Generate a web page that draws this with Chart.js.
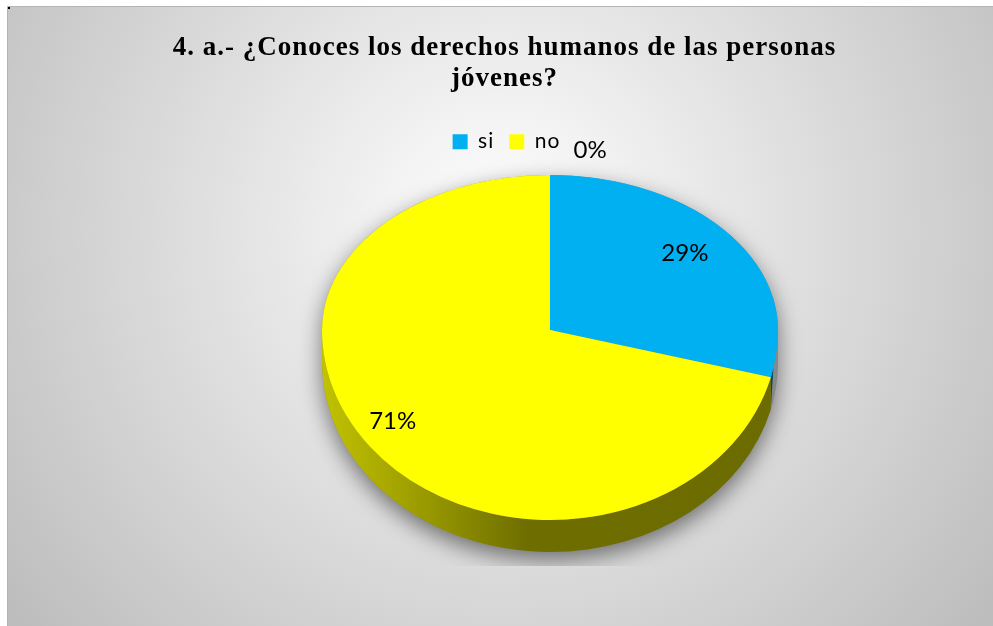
<!DOCTYPE html>
<html>
<head>
<meta charset="utf-8">
<title>Derechos humanos de las personas jóvenes</title>
<script src="https://cdn.jsdelivr.net/npm/chart.js@4.4.1/dist/chart.umd.min.js"></script>
<style>
  html, body { margin: 0; padding: 0; background: #fff; }
  canvas { display: block; }
</style>
</head>
<body>
<canvas id="pieChart" width="993" height="626"></canvas>
<script>
// data
const categories = ['si', 'no', ''];
const shares = [29, 71, 0];
const sliceColors = ['#00b0f0', '#ffff00', '#a5a5a5'];
const titleLines = ['4. a.- ¿Conoces los derechos humanos de las personas', 'jóvenes?'];

// look of the fake 3D pie (Excel style)
const pie3d = { cx: 550, apexY: 330, rx: 228, ryTop: 155, ryBottom: 190, depth: 32, sideFrom: 0.2, taper: 0.18 };
const sideShade = [[0, 0.76], [0.2, 0.62], [0.45, 0.43], [1, 0.42]];
const labelPlace = [{ r: 0.77, nudge: -2 }, { r: 0.84, nudge: 3 }, { r: 1.175, nudge: 8.6 }];

function shade(hex, f) {
  const n = parseInt(hex.slice(1), 16);
  const r = Math.round(((n >> 16) & 255) * f);
  const g = Math.round(((n >> 8) & 255) * f);
  const b = Math.round((n & 255) * f);
  return 'rgb(' + r + ',' + g + ',' + b + ')';
}

const backdrop = {
  id: 'backdrop',
  beforeDraw(chart) {
    const ctx = chart.ctx, w = chart.width, h = chart.height;
    ctx.save();
    ctx.fillStyle = '#fff';
    ctx.fillRect(0, 0, w, h);
    const g = ctx.createRadialGradient(500, 230, 0, 500, 230, 620);
    g.addColorStop(0, '#ffffff');
    g.addColorStop(1, '#bdbdbd');
    ctx.fillStyle = g;
    ctx.fillRect(7, 6, w - 7, h - 6);
    ctx.strokeStyle = '#b4b4b4';
    ctx.lineWidth = 1;
    ctx.beginPath();
    ctx.moveTo(7.5, h);
    ctx.lineTo(7.5, 6.5);
    ctx.lineTo(w, 6.5);
    ctx.stroke();
    ctx.fillStyle = '#000';
    ctx.fillRect(8, 7, 2, 2);
    ctx.restore();
    // the original picture is a bit stretched sideways: widen title and legend text
    ctx.letterSpacing = '1px';
  }
};

const pie3dPlugin = {
  id: 'pie3d',
  beforeDatasetsDraw(chart) {
    const ctx = chart.ctx;
    ctx.letterSpacing = '0px';
    const arcs = chart.getDatasetMeta(0).data;
    const p = pie3d;
    const R = arcs[0].outerRadius;

    // soft shadow under the pie
    ctx.save();
    ctx.beginPath();
    ctx.rect(290, 150, 520, 416);
    ctx.clip();
    ctx.shadowColor = 'rgba(0,0,0,0.5)';
    ctx.shadowBlur = 22;
    ctx.shadowOffsetY = 8;
    ctx.fillStyle = '#888';
    ctx.beginPath();
    ctx.ellipse(p.cx, p.apexY, p.rx, p.ryTop, 0, Math.PI, 2 * Math.PI);
    ctx.lineTo(p.cx + p.rx, p.apexY + p.depth);
    ctx.ellipse(p.cx, p.apexY + p.depth, p.rx, p.ryBottom, 0, 0, Math.PI);
    ctx.closePath();
    ctx.fill();
    ctx.restore();

    // side walls of the front half
    arcs.forEach((arc, i) => {
      const a = Math.max(arc.startAngle, p.sideFrom);
      const b = Math.min(arc.endAngle, Math.PI);
      if (b <= a) return;
      const aLow = a <= p.sideFrom ? Math.min(a + p.taper, b) : a;
      const grad = ctx.createLinearGradient(p.cx - p.rx, 0, p.cx + p.rx, 0);
      sideShade.forEach(([stop, f]) => grad.addColorStop(stop, shade(sliceColors[i], f)));
      ctx.save();
      ctx.fillStyle = grad;
      ctx.beginPath();
      ctx.ellipse(p.cx, p.apexY, p.rx, p.ryBottom, 0, a, b);
      ctx.ellipse(p.cx, p.apexY + p.depth, p.rx, p.ryBottom, 0, b, aLow, true);
      ctx.closePath();
      ctx.fill();
      ctx.restore();
    });

    // top face: back half flatter than front half
    [[0, p.apexY + 1, p.ryTop], [p.apexY - 1, chart.height, p.ryBottom]].forEach(([y0, y1, ry]) => {
      ctx.save();
      ctx.beginPath();
      ctx.rect(0, y0, chart.width, y1 - y0);
      ctx.clip();
      ctx.translate(p.cx, p.apexY);
      ctx.scale(p.rx / R, ry / R);
      ctx.translate(-arcs[0].x, -arcs[0].y);
      arcs.forEach(arc => arc.draw(ctx));
      ctx.restore();
    });

    // percentage labels
    ctx.save();
    ctx.fillStyle = '#000';
    ctx.font = '24px Lato';
    ctx.textAlign = 'center';
    ctx.textBaseline = 'middle';
    arcs.forEach((arc, i) => {
      const mid = (arc.startAngle + arc.endAngle) / 2 + labelPlace[i].nudge * Math.PI / 180;
      const r = labelPlace[i].r * p.rx;
      const ry = Math.sin(mid) < 0 ? p.ryTop : p.ryBottom;
      const x = p.cx + r * Math.cos(mid);
      const y = p.apexY + r * Math.sin(mid) * ry / p.rx;
      ctx.fillText(shares[i] + '%', x, y);
    });
    ctx.restore();
    return false;
  }
};

new Chart(document.getElementById('pieChart'), {
  type: 'pie',
  data: {
    labels: categories,
    datasets: [{
      data: shares,
      backgroundColor: sliceColors,
      borderWidth: 0,
      radius: 228
    }]
  },
  options: {
    responsive: false,
    animation: false,
    layout: { padding: { left: 16, top: 5 } },
    plugins: {
      title: {
        display: true,
        text: titleLines,
        color: '#000',
        font: { family: 'Liberation Serif', size: 27, weight: 'bold', lineHeight: 1.17 },
        padding: { top: 27, bottom: 21 }
      },
      legend: {
        labels: {
          filter: item => item.text !== '',
          boxWidth: 15,
          boxHeight: 15,
          padding: 15,
          color: '#000',
          font: { family: 'Lato', size: 21 }
        }
      },
      tooltip: { enabled: false }
    }
  },
  plugins: [backdrop, pie3dPlugin]
});
</script>
</body>
</html>
